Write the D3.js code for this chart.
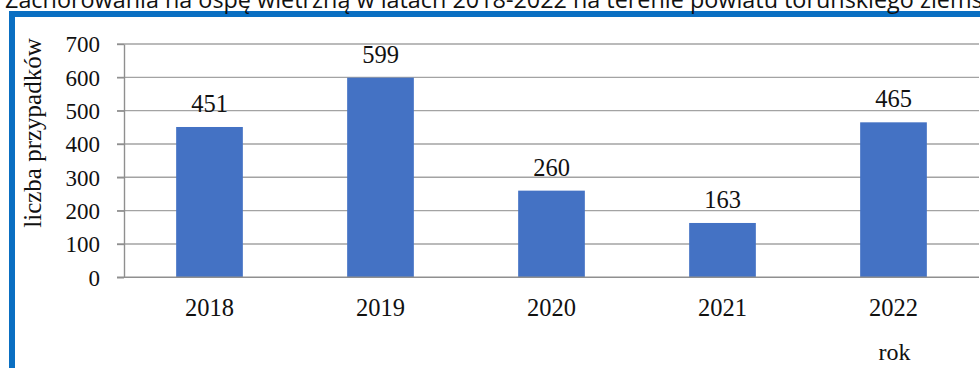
<!DOCTYPE html>
<html>
<head>
<meta charset="utf-8">
<script src="https://cdn.jsdelivr.net/npm/d3@7"></script>
<style>
  html, body { margin: 0; padding: 0; background: #fff; }
  svg { display: block; }
</style>
</head>
<body>
<svg id="chart" width="980" height="368"></svg>
<script>
const titleText = "Zachorowania na ospę wietrzną w latach 2018-2022 na terenie powiatu toruńskiego ziemskiego";
const titleVisiblePart = "Zachorowania na ospę wietrzną w latach 2018-2022 na terenie powiatu toruńskiego ziems";
const years = ["2018", "2019", "2020", "2021", "2022"];
const cases = [451, 599, 260, 163, 465];
const yTickValues = [0, 100, 200, 300, 400, 500, 600, 700];
const yAxisTitle = "liczba przypadków";
const xAxisTitle = "rok";

const svg = d3.select("#chart");
const serif = "'Liberation Serif', 'Times New Roman', serif";

const x = d3.scaleBand().domain(years).range([124, 979]).paddingInner(0.61).paddingOuter(0.305);
const y = d3.scaleLinear().domain([0, 700]).range([277.3, 44]);

// frame
svg.append("rect").attr("x", 9).attr("y", 11).attr("width", 980).attr("height", 6).attr("fill", "#0a6fc2");
svg.append("rect").attr("x", 9).attr("y", 11).attr("width", 6).attr("height", 360).attr("fill", "#0a6fc2");

// title (clipped at top, as in the reference)
const t = svg.append("text")
  .attr("x", 5).attr("y", 7.5)
  .attr("font-family", "'Open Sans', 'Noto Sans', sans-serif")
  .attr("font-size", 20)
  .attr("fill", "#111")
  .text(titleVisiblePart);
const w = t.node().getComputedTextLength();
t.attr("font-size", 20 * 978 / w).text(titleText);

// gridlines
svg.append("g").selectAll("line").data(yTickValues.filter(v => v > 0)).join("line")
  .attr("x1", 117).attr("x2", 979)
  .attr("y1", d => y(d)).attr("y2", d => y(d))
  .attr("stroke", "#a3a3a3").attr("stroke-width", 1.4);

// bars
svg.append("g").selectAll("rect").data(years).join("rect")
  .attr("x", d => x(d))
  .attr("width", x.bandwidth())
  .attr("y", (d, i) => y(cases[i]))
  .attr("height", (d, i) => y(0) - y(cases[i]))
  .attr("fill", "#4472c4");

// y axis
const yAxis = svg.append("g").attr("transform", "translate(124,0)")
  .call(d3.axisLeft(y).tickValues(yTickValues).tickSize(7).tickPadding(17).tickSizeOuter(0));
yAxis.select(".domain").attr("stroke", "#8f8f8f").attr("stroke-width", 1.4);
yAxis.selectAll(".tick line").attr("stroke", "#8f8f8f").attr("stroke-width", 1.4);
yAxis.selectAll(".tick text").attr("font-family", serif).attr("font-size", 23).attr("fill", "#111")
  .attr("dy", "0.34em");

// baseline
svg.append("line").attr("x1", 117).attr("x2", 979).attr("y1", y(0)).attr("y2", y(0))
  .attr("stroke", "#8f8f8f").attr("stroke-width", 1.4);

// x axis labels
const xAxis = svg.append("g").attr("transform", `translate(0,${y(0)})`)
  .call(d3.axisBottom(x).tickSize(0).tickPadding(0));
xAxis.select(".domain").remove();
xAxis.selectAll(".tick text").attr("font-family", serif).attr("font-size", 24.5).attr("fill", "#111")
  .attr("dy", null).attr("y", 38.5);

// value labels
svg.append("g").selectAll("text").data(years).join("text")
  .attr("x", d => x(d) + x.bandwidth() / 2)
  .attr("y", (d, i) => y(cases[i]) - 15)
  .attr("text-anchor", "middle")
  .attr("font-family", serif).attr("font-size", 24.5).attr("fill", "#111")
  .text((d, i) => cases[i]);

// axis titles
svg.append("text")
  .attr("transform", `translate(41,133) rotate(-90)`)
  .attr("text-anchor", "middle")
  .attr("font-family", serif).attr("font-size", 25).attr("fill", "#111")
  .text(yAxisTitle);

svg.append("text")
  .attr("x", x("2022") + x.bandwidth() / 2 + 1).attr("y", 360)
  .attr("text-anchor", "middle")
  .attr("font-family", serif).attr("font-size", 24).attr("fill", "#111")
  .text(xAxisTitle);
</script>
</body>
</html>
